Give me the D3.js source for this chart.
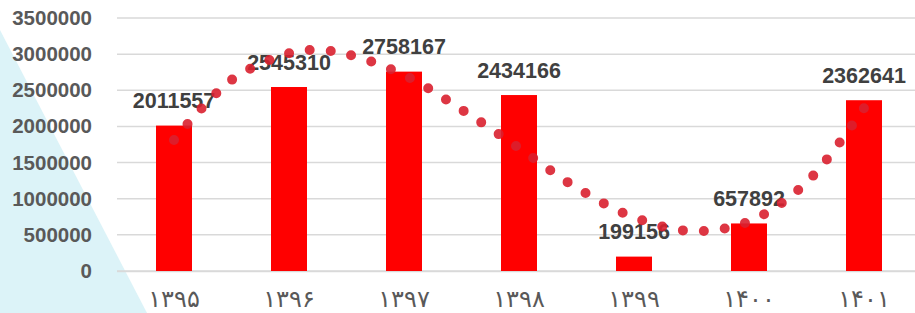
<!DOCTYPE html>
<html>
<head>
<meta charset="utf-8">
<script src="https://cdn.jsdelivr.net/npm/d3@7"></script>
<style>
  body { margin: 0; background: #fff; }
  svg { display: block; }
</style>
</head>
<body>
<svg id="chart" width="915" height="313"></svg>
<script>
let years = ["۱۳۹۵", "۱۳۹۶", "۱۳۹۷", "۱۳۹۸", "۱۳۹۹", "۱۴۰۰", "۱۴۰۱"];
let values = [2011557, 2545310, 2758167, 2434166, 199156, 657892, 2362641];
let yTicks = [0, 500000, 1000000, 1500000, 2000000, 2500000, 3000000, 3500000];

// trendline, at half-category steps
let trendPos = [0, 0.5, 1, 1.24, 1.5, 2, 2.5, 3, 3.5, 4, 4.5, 5, 5.5, 6];
let trendVal = [1812000, 2642000, 3012000, 3057000, 3002000, 2711000, 2234000,
                1702000, 1152000, 743000, 553000, 685000, 1224000, 2255000];

let svg = d3.select("#chart");

// background corner triangle
svg.append("polygon")
  .attr("points", "0,30 147,313 0,313")
  .attr("fill", "#dcf3f8");

let x = d3.scaleBand()
  .domain(years)
  .range([116.5, 921.5]);

let y = d3.scaleLinear()
  .domain([0, 3500000])
  .range([271, 18]);

// gridlines
svg.append("g")
  .selectAll("line")
  .data(yTicks)
  .enter().append("line")
    .attr("x1", 117)
    .attr("x2", 915)
    .attr("y1", d => y(d))
    .attr("y2", d => y(d))
    .attr("stroke", "#d9d9d9")
    .attr("stroke-width", 1.5);

// y axis labels
let yAxis = svg.append("g")
  .attr("transform", "translate(96,0)")
  .call(d3.axisLeft(y).tickValues(yTicks).tickFormat(d3.format("d")).tickSize(0).tickPadding(4));
yAxis.select(".domain").remove();
yAxis.selectAll("text")
  .attr("fill", "#595959")
  .style("font-family", "'Liberation Sans', Arial, sans-serif")
  .style("font-weight", "bold")
  .style("font-size", "20.5px");

// x axis
let xAxis = svg.append("g")
  .attr("transform", "translate(0,271)")
  .call(d3.axisBottom(x).tickSize(0).tickPadding(19));
xAxis.select(".domain").attr("stroke", "#d9d9d9").attr("stroke-width", 1.5);
xAxis.selectAll("text")
  .attr("fill", "#595959")
  .style("font-family", "'DejaVu Sans', sans-serif")
  .style("font-size", "24px");

let barW = 36;
svg.append("g")
  .selectAll("rect")
  .data(values)
  .enter().append("rect")
    .attr("x", (d, i) => x(years[i]) + x.bandwidth() / 2 - barW / 2)
    .attr("y", d => y(d))
    .attr("width", barW)
    .attr("height", d => 271 - y(d))
    .attr("fill", "#ff0000");

svg.append("g")
  .selectAll("text")
  .data(values)
  .enter().append("text")
    .attr("x", (d, i) => x(years[i]) + x.bandwidth() / 2)
    .attr("y", d => y(d) - 17.5)
    .attr("text-anchor", "middle")
    .attr("fill", "#404040")
    .style("font-family", "'Liberation Sans', Arial, sans-serif")
    .style("font-weight", "bold")
    .style("font-size", "21.5px")
    .text(d => d);

// dotted trend line
let step = x.step();
let x0 = x(years[0]) + x.bandwidth() / 2;
let line = d3.line()
  .x((d, i) => x0 + trendPos[i] * step)
  .y(d => y(d))
  .curve(d3.curveCatmullRom);

svg.append("path")
  .datum(trendVal)
  .attr("d", line)
  .attr("fill", "none")
  .attr("stroke", "#d9202f")
  .attr("stroke-opacity", 0.9)
  .attr("stroke-width", 10)
  .attr("stroke-linecap", "round")
  .attr("stroke-dasharray", "0 21");
</script>
</body>
</html>
